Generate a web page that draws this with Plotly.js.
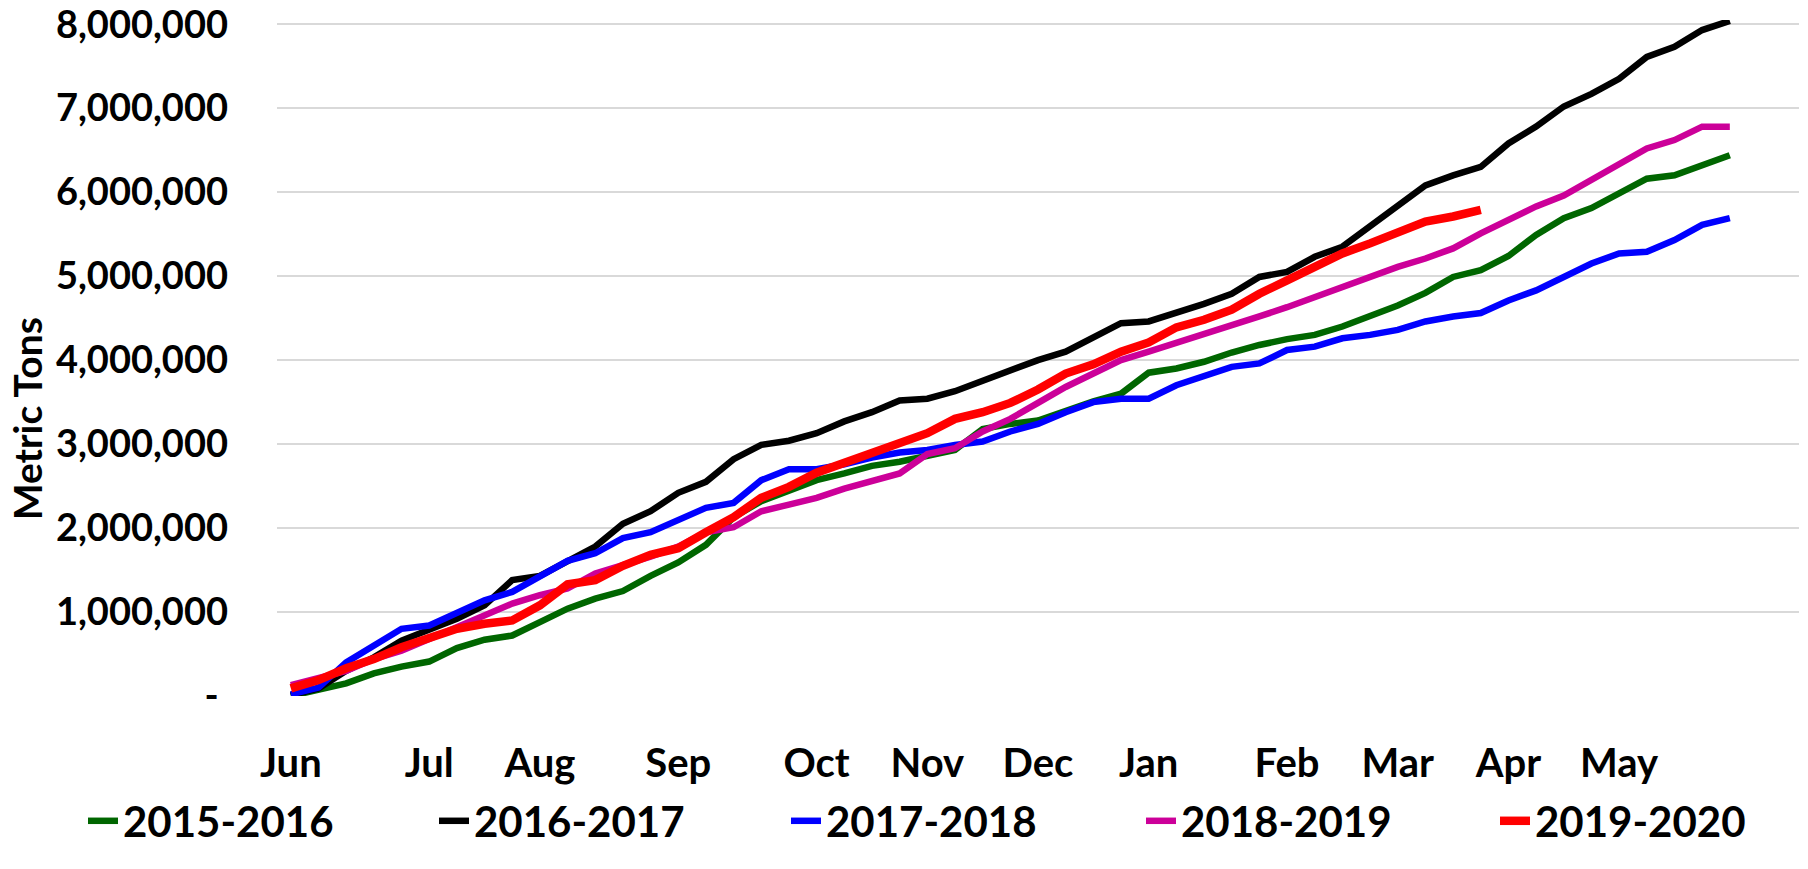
<!DOCTYPE html>
<html>
<head>
<meta charset="utf-8">
<script src="https://cdn.plot.ly/plotly-3.0.1.min.js"></script>
<style>
  html, body { margin: 0; padding: 0; background: #ffffff; }
  #chart { width: 1808px; height: 869px; }
</style>
</head>
<body>
<div id="chart"></div>
<script>
// Marketing-year weeks (category index, June first week = 0)
const monthLabels = ["Jun", "Jul", "Aug", "Sep", "Oct", "Nov", "Dec", "Jan", "Feb", "Mar", "Apr", "May"];
const monthStartWeek = [0, 5, 9, 14, 19, 23, 27, 31, 36, 40, 44, 48];

const yTickValues = [0, 1000000, 2000000, 3000000, 4000000, 5000000, 6000000, 7000000, 8000000];
const yTickLabels = ["-\u00a0", "1,000,000", "2,000,000", "3,000,000", "4,000,000", "5,000,000", "6,000,000", "7,000,000", "8,000,000"];

const seriesNames = ["2015-2016", "2016-2017", "2017-2018", "2018-2019", "2019-2020"];

const s2015_2016 = [0, 70000, 150000, 270000, 350000, 410000, 570000, 670000, 720000, 880000, 1040000, 1160000,
  1250000, 1430000, 1590000, 1800000, 2130000, 2320000, 2450000, 2570000, 2650000, 2740000, 2790000, 2860000,
  2930000, 3180000, 3240000, 3280000, 3400000, 3510000, 3600000,
  3850000, 3900000, 3980000, 4090000, 4180000, 4250000, 4300000, 4400000, 4520000, 4650000, 4800000, 4990000,
  5070000, 5240000, 5490000, 5690000, 5810000, 5980000, 6160000, 6200000, 6320000, 6440000];

const s2016_2017 = [10000, 90000, 300000, 460000, 660000, 780000, 920000, 1080000, 1380000, 1430000, 1600000, 1780000,
  2050000, 2200000, 2420000, 2550000, 2820000, 2990000, 3040000, 3130000, 3270000, 3380000, 3520000, 3540000,
  3630000, 3750000, 3890000, 4000000, 4100000, 4270000, 4440000,
  4460000, 4560000, 4670000, 4790000, 4990000, 5050000, 5230000, 5350000, 5590000, 5850000, 6080000, 6200000,
  6300000, 6580000, 6780000, 7020000, 7170000, 7350000, 7610000, 7730000, 7930000, 8040000];

const s2017_2018 = [20000, 100000, 400000, 600000, 800000, 840000, 1000000, 1140000, 1240000, 1420000, 1610000, 1700000,
  1880000, 1950000, 2090000, 2240000, 2300000, 2570000, 2700000, 2700000, 2760000, 2840000, 2900000, 2930000,
  2990000, 3030000, 3150000, 3240000, 3380000, 3500000, 3540000,
  3540000, 3700000, 3800000, 3920000, 3960000, 4120000, 4160000, 4260000, 4300000, 4360000, 4460000, 4520000,
  4560000, 4710000, 4830000, 4990000, 5150000, 5270000, 5290000, 5430000, 5610000, 5690000];

const s2018_2019 = [130000, 210000, 300000, 440000, 540000, 680000, 820000, 940000, 1100000, 1200000, 1280000, 1460000,
  1550000, 1660000, 1780000, 1950000, 2010000, 2200000, 2280000, 2360000, 2470000, 2570000, 2650000, 2880000,
  2950000, 3150000, 3300000, 3490000, 3680000, 3840000, 4000000,
  4100000, 4200000, 4300000, 4420000, 4520000, 4630000, 4750000, 4890000, 5010000, 5110000, 5210000, 5330000,
  5510000, 5670000, 5830000, 5960000, 6140000, 6340000, 6520000, 6620000, 6780000, 6780000];

const s2019_2020 = [90000, 190000, 330000, 440000, 580000, 680000, 800000, 860000, 900000, 1080000, 1330000, 1380000,
  1550000, 1680000, 1760000, 1950000, 2130000, 2360000, 2490000, 2660000, 2780000, 2900000, 3030000, 3130000,
  3300000, 3380000, 3490000, 3650000, 3840000, 3950000, 4100000,
  4210000, 4390000, 4480000, 4600000, 4790000, 4950000, 5110000, 5270000, 5390000, 5510000, 5650000, 5710000,
  5790000];

const seriesValues = [s2015_2016, s2016_2017, s2017_2018, s2018_2019, s2019_2020];
const seriesColors = ["#006600", "#000000", "#0000FF", "#CC0099", "#FF0000"];
const seriesWidths = [6.5, 6.5, 6.5, 6.5, 8.5];
const legendIds = ["legend", "legend2", "legend3", "legend4", "legend5"];
const legendTextStart = [127, 478, 830, 1185, 1539];

const traces = seriesValues.map((vals, k) => ({
  type: "scatter",
  mode: "lines",
  name: seriesNames[k],
  legend: legendIds[k],
  x: vals.map((_, i) => i),
  y: vals,
  line: { color: seriesColors[k], width: seriesWidths[k], shape: "linear" },
  hoverinfo: "skip"
}));

const fontFamily = "Lato, 'Open Sans', sans-serif";

const layout = {
  width: 1808,
  height: 869,
  paper_bgcolor: "#ffffff",
  plot_bgcolor: "#ffffff",
  margin: { l: 277, r: 9, t: 20, b: 173 },
  showlegend: true,
  xaxis: {
    type: "linear",
    range: [-0.5, 54.5],
    tickmode: "array",
    tickvals: monthStartWeek,
    ticktext: monthLabels,
    showgrid: false,
    zeroline: false,
    showline: false,
    ticks: "",
    ticklabelstandoff: 40,
    tickfont: { family: fontFamily, size: 40, color: "#000000", weight: "bold" },
    fixedrange: true
  },
  yaxis: {
    range: [0, 8050000],
    tickmode: "array",
    tickvals: yTickValues,
    ticktext: yTickLabels,
    ticklabeloverflow: "allow",
    showgrid: true,
    gridcolor: "#D9D9D9",
    gridwidth: 1.5,
    zeroline: false,
    showline: false,
    ticks: "",
    ticklabelstandoff: 48,
    tickfont: { family: fontFamily, size: 38, color: "#000000", weight: "bold" },
    fixedrange: true
  },
  annotations: [{
    text: "Metric Tons",
    xref: "paper",
    yref: "paper",
    x: (27 - 277) / 1522,
    y: (696 - 421) / 672,
    xanchor: "center",
    yanchor: "middle",
    textangle: -90,
    showarrow: false,
    font: { family: fontFamily, size: 39, color: "#000000", weight: "bold" }
  }]
};

legendIds.forEach((id, k) => {
  layout[id] = {
    orientation: "h",
    xref: "container",
    yref: "container",
    x: (legendTextStart[k] - 44) / 1808,
    xanchor: "left",
    y: (869 - 821) / 869,
    yanchor: "middle",
    bgcolor: "rgba(0,0,0,0)",
    font: { family: fontFamily, size: 42, color: "#000000", weight: "bold" }
  };
});

Plotly.newPlot("chart", traces, layout, { displayModeBar: false, staticPlot: true });
</script>
</body>
</html>
